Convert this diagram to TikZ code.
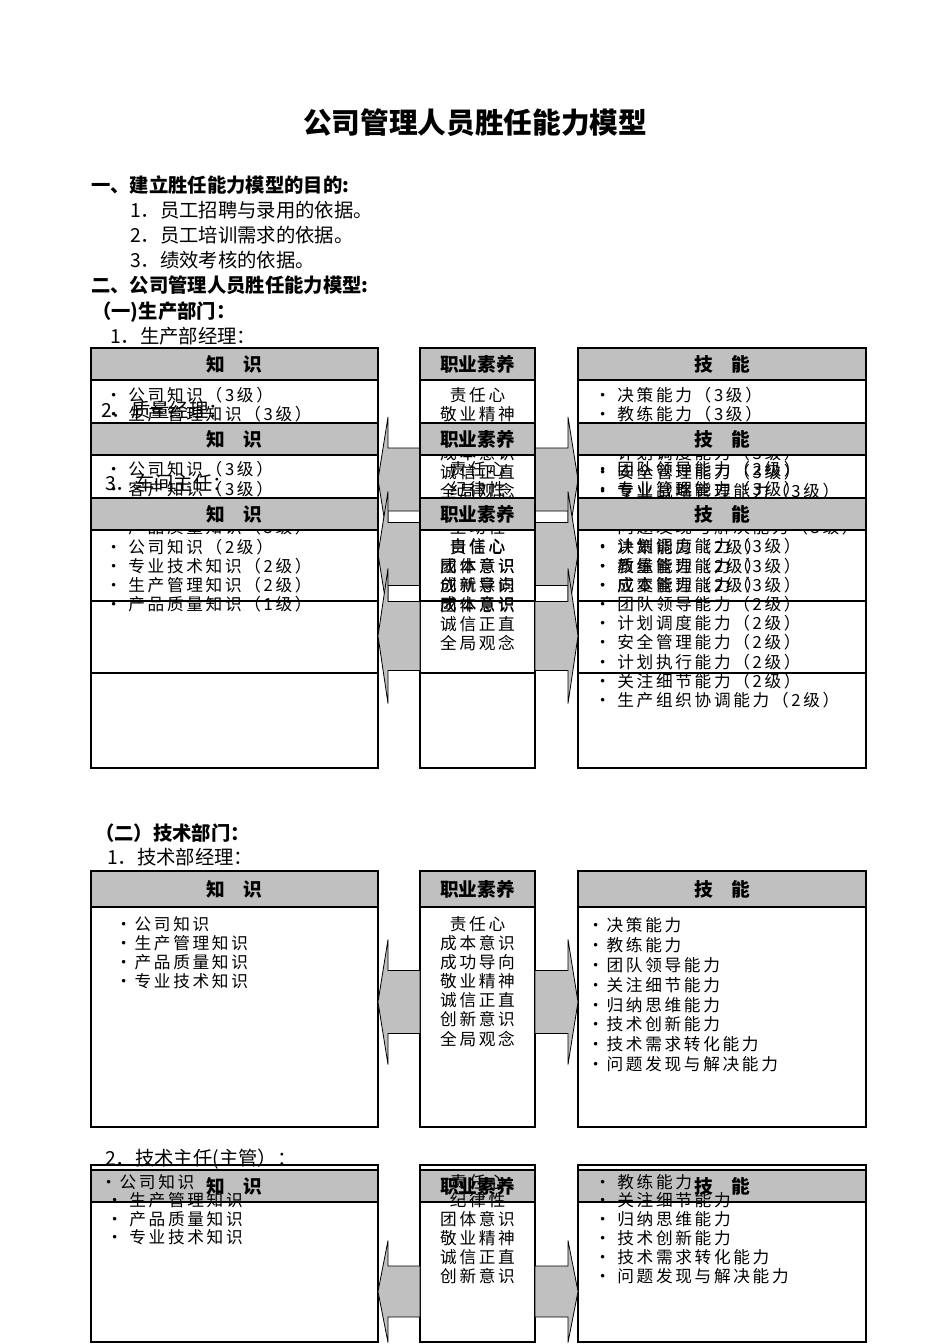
\documentclass[tikz,border=0pt]{standalone}
\usepackage{fontspec}
\setmainfont{Noto Sans CJK SC}
\newfontfamily\lsfont[LetterSpace=16]{Noto Sans CJK SC}
\definecolor{hgray}{RGB}{192,192,192}
\newcommand\mkhdr[3]{%
  \draw[hdr] (91,#1) rectangle (378,#2);
  \draw[hdr] (420,#1) rectangle (535,#2);
  \draw[hdr] (578,#1) rectangle (866,#2);
  \node[hlab] (#3k) at (234.5,{(#1+#2)/2+7}) {知　识};
  \node[hlab] (#3m) at (477.5,{(#1+#2)/2+7}) {职业素养};
  \node[hlab] (#3s) at (722,{(#1+#2)/2+7}) {技　能};}
\newcommand\mkbody[2]{%
  \draw[bx] (91,#1) rectangle (378,#2);
  \draw[bx] (420,#1) rectangle (535,#2);
  \draw[bx] (578,#1) rectangle (866,#2);}
\newcommand\mkarr[3]{%
  \draw[arr] (378,#1) -- (388,{#1-#2}) -- (388,{#1-#3}) -- (420,{#1-#3}) -- (420,{#1+#3}) -- (388,{#1+#3}) -- (388,{#1+#2}) -- cycle;
  \draw[arr] (535,{#1-#3}) -- (568,{#1-#3}) -- (568,{#1-#2}) -- (578,#1) -- (568,{#1+#2}) -- (568,{#1+#3}) -- (535,{#1+#3}) -- cycle;}
\tikzset{
  hdr/.style={draw=black, fill=hgray, line width=0.8pt},
  bx/.style={draw=black, line width=0.8pt},
  arr/.style={draw=black, fill=hgray, line width=0.6pt},
  lst/.style={font=\lsfont\fontsize{12.5pt}{15pt}\selectfont, inner sep=0pt, anchor=base west},
  mid/.style={lst, anchor=base},
  hlab/.style={font=\bfseries\fontsize{14pt}{16pt}\selectfont, inner sep=0pt, anchor=base},
  txt/.style={font=\fontsize{14.5pt}{17pt}\selectfont, inner sep=0pt, anchor=base west},
  htxt/.style={txt, font=\bfseries\fontsize{14.5pt}{17pt}\selectfont},
}
\begin{document}
\begin{tikzpicture}[x=0.75pt,y=-0.75pt]
\fill[white] (0,0) rectangle (950,1344);
\useasboundingbox (0,0) rectangle (950,1344);

\node[font=\bfseries\fontsize{21.5pt}{25pt}\selectfont, inner sep=0pt, anchor=base] (title) at (475,134) {公司管理人员胜任能力模型};
\node[htxt] (h1) at (91,193) {一、建立胜任能力模型的目的:};
\node[txt] (p1) at (130,218) {1．员工招聘与录用的依据。};
\node[txt] (p2) at (130,243) {2．员工培训需求的依据。};
\node[txt] (p3) at (130,268) {3．绩效考核的依据。};
\node[htxt] (h2) at (91,293) {二、公司管理人员胜任能力模型:};
\node[htxt] (h3) at (92,318) {（一)生产部门：};
\node[txt] (s1) at (110,343) {1．生产部经理：};

% ---------- diagram 1
\mkbody{380}{768}
\mkhdr{348}{380}{a}
\mkarr{479.5}{62.5}{31.5}
\foreach \yy/\t [count=\i] in {395/· 公司知识（3级）, 414/· 生产管理知识（3级）}
  {\node[lst] (ak\i) at (105,\yy+6) {\t};}
\foreach \yy/\t [count=\i] in {395/责任心, 414/敬业精神, 453/成本意识, 472/诚信正直, 491/全局观念}
  {\node[mid] (am\i) at (477.5,\yy+6) {\t};}
\foreach \yy/\t [count=\i] in {395/· 决策能力（3级）, 414/· 教练能力（3级）, 453/· 计划调度能力（3级）, 472/· 安全管理能力（3级）, 491/· 专业战略管理能力（3级）}
  {\node[lst] (as\i) at (594,\yy+6) {\t};}

\node[txt] (s2) at (101,417) {2．质量经理：};

% ---------- diagram 2
\mkbody{455}{601}
\mkhdr{423}{455}{b}
\mkarr{554}{62.5}{31.5}
\foreach \yy/\t [count=\i] in {469/· 公司知识（3级）, 489/· 客户知识（3级）, 527/· 产品质量知识（3级）}
  {\node[lst] (bk\i) at (105,\yy+6) {\t};}
\foreach \yy/\t [count=\i] in {469/责任心, 489/纪律性, 527/主动性, 546/自信心, 566/团体意识, 585/创新意识, 604/成本意识}
  {\node[mid] (bm\i) at (477.5,\yy+6) {\t};}
\foreach \yy/\t [count=\i] in {469/· 团队领导能力（2级）, 489/· 专业管理能力（3级）, 527/· 问题发现与解决能力（3级）, 546/· 计划调度能力（3级）, 566/· 质量管理能力（3级）, 585/· 成本管理能力（3级）}
  {\node[lst] (bs\i) at (594,\yy+6) {\t};}

\node[txt] (s3) at (105,490) {3．车间主任：};

% ---------- diagram 3
\mkbody{530}{673}
\mkhdr{498}{530}{c}
\mkarr{636}{67.5}{34.5}
\foreach \yy/\t [count=\i] in {547/· 公司知识（2级）, 566/· 专业技术知识（2级）, 585/· 生产管理知识（2级）, 604/· 产品质量知识（1级）}
  {\node[lst] (ck\i) at (105,\yy+6) {\t};}
\foreach \yy/\t [count=\i] in {547/责任心, 566/成本意识, 585/成就导向, 605/团体意识, 624/诚信正直, 643/全局观念}
  {\node[mid] (cm\i) at (477.5,\yy+6) {\t};}
\foreach \yy/\t [count=\i] in {547/· 决策能力（2级）, 566/· 教练能力（2级）, 585/· 应变能力（2级）, 604/· 团队领导能力（2级）, 623/· 计划调度能力（2级）, 642/· 安全管理能力（2级）, 662/· 计划执行能力（2级）, 681/· 关注细节能力（2级）, 700/· 生产组织协调能力（2级）}
  {\node[lst] (cs\i) at (594,\yy+6) {\t};}

% ---------- technical department
\node[htxt] (h4) at (95,840) {（二）技术部门：};
\node[txt] (t1) at (107,864) {1．技术部经理：};
\mkbody{907}{1127}
\mkhdr{871}{907}{d}
\mkarr{1002}{62.5}{31.5}
\foreach \yy/\t [count=\i] in {924/·公司知识, 943/·生产管理知识, 962/·产品质量知识, 981/·专业技术知识}
  {\node[lst] (dk\i) at (115,\yy+6) {\t};}
\foreach \yy/\t [count=\i] in {924/责任心, 943/成本意识, 962/成功导向, 981/敬业精神, 1000/诚信正直, 1019/创新意识, 1039/全局观念}
  {\node[mid] (dm\i) at (477.5,\yy+6) {\t};}
\foreach \yy/\t [count=\i] in {925/·决策能力, 945/·教练能力, 965/·团队领导能力, 985/·关注细节能力, 1005/·归纳思维能力, 1024/·技术创新能力, 1044/·技术需求转化能力, 1064/·问题发现与解决能力}
  {\node[lst] (ds\i) at (587,\yy+6) {\t};}

\node[txt] (t2) at (105,1165) {2．技术主任(主管）：};
\mkbody{1165}{1342}
\mkhdr{1170}{1202}{e}
\mkarr{1291.5}{51}{25.5}
\node[lst] (ek1) at (100,1188) {·公司知识};
\foreach \yy/\t [count=\i] in {1200/· 生产管理知识, 1219/· 产品质量知识, 1237/· 专业技术知识}
  {\node[lst] (ekk\i) at (106,\yy+6) {\t};}
\foreach \yy/\t [count=\i] in {1182/责任心, 1200/纪律性, 1219/团体意识, 1238/敬业精神, 1257/诚信正直, 1276/创新意识}
  {\node[mid] (em\i) at (477.5,\yy+6) {\t};}
\foreach \yy/\t [count=\i] in {1182/· 教练能力, 1200/· 关注细节能力, 1219/· 归纳思维能力, 1238/· 技术创新能力, 1257/· 技术需求转化能力, 1276/· 问题发现与解决能力}
  {\node[lst] (es\i) at (594,\yy+6) {\t};}
\end{tikzpicture}
\end{document}
